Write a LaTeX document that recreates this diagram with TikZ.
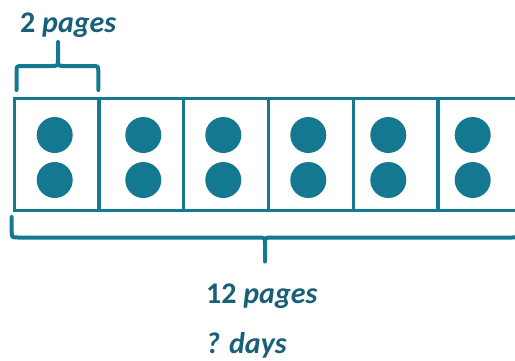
\documentclass[tikz,border=0pt]{standalone}
\usepackage{fontspec}
\setmainfont{Carlito}
\definecolor{teal1}{RGB}{21,120,145}
\definecolor{tealtxt}{RGB}{24,96,120}
\begin{document}
\begin{tikzpicture}[x=1pt,y=-1pt,
  cellbox/.style={draw=teal1,line width=3.3pt,minimum width=84.7pt,minimum height=112.3pt,inner sep=0pt,anchor=north west},
  dot/.style={circle,fill=teal1,minimum size=36pt,inner sep=0pt},
  bracepath/.style={draw=teal1,line width=4pt,line cap=round,line join=round},
  lbl/.style={text=tealtxt,font=\fontsize{30}{34}\selectfont\bfseries,anchor=base west,inner sep=0pt}]
\useasboundingbox (0,0) rectangle (515,360);
\clip (0,0) rectangle (515,360);
% cells
\foreach \i/\x in {1/12.7,2/97.4,3/182.1,4/266.8,5/351.5,6/436.2}
  \node[cellbox] (c\i) at (\x,96.7) {};
% dots
\foreach \i/\x in {1/54.7,2/143.3,3/223.3,4/308.3,5/388.3,6/472.7}{
  \node[dot] (u\i) at (\x,135) {};
  \node[dot] (d\i) at (\x,180) {};
}
% top brace
\path[bracepath] (16.5,90) -- (16.5,72) .. controls (16.5,66) .. (22.5,66)
  -- (51,66) .. controls (58,66) .. (58,59) -- (58,42)
  (58,59) .. controls (58,66) .. (65,66) -- (92,66) .. controls (98.3,66) .. (98.3,72) -- (98.3,90);
% bottom brace
\path[bracepath] (11.7,217) -- (11.7,231) .. controls (11.7,237.5) .. (18,237.5)
  -- (258,237.5) .. controls (265,237.5) .. (265,244.5) -- (265,261.5)
  (265,244.5) .. controls (265,237.5) .. (272,237.5) -- (512,237.5) .. controls (518.5,237.5) .. (518.5,231) -- (518.5,217);
% labels
\node[lbl] (t2) at (20,32.3) {2 \textit{pages}};
\node[lbl] (t12) at (206,303.3) {12 \textit{pages}};
\node[lbl] (tdays) at (206,353) {\textit{? days}};
\end{tikzpicture}
\end{document}
